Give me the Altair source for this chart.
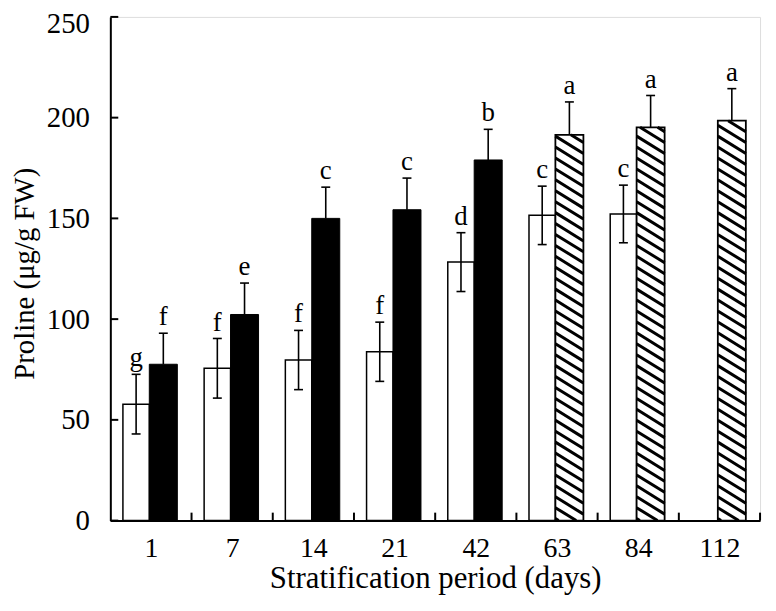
import altair as alt
import pandas as pd
import numpy as np

# ---- data ----
categories = ["1", "7", "14", "21", "42", "63", "84", "112"]
white_means = [57.8, 75.6, 79.7, 83.8, 128.3, 151.5, 152.2, None]
white_errs = [14.8, 14.8, 14.7, 14.7, 14.6, 14.5, 14.3, None]
white_letters = ["g", "f", "f", "f", "d", "c", "c", None]
dark_means = [77.6, 102.3, 150.0, 154.3, 179.0, 191.5, 195.2, 198.5]
dark_errs = [15.4, 15.6, 15.5, 15.7, 15.2, 16.3, 15.8, 15.9]
dark_letters = ["f", "e", "c", "c", "b", "a", "a", "a"]
dark_hatched = [False, False, False, False, False, True, True, True]
y_ticks = [0, 50, 100, 150, 200, 250]

# ---- layout constants ----
W, H = 654, 507
YMAX = 250
NG = len(categories)
PX_X = W / NG
PX_Y = H / YMAX
W_L, W_R = 0.155, 0.48
D_L, D_R = 0.48, 0.825
CAP = 0.055

rows_w, rows_d = [], []
for i, c in enumerate(categories):
    if white_means[i] is not None:
        rows_w.append(dict(cat=c, x=i + W_L, x2=i + W_R, xc=i + (W_L + W_R) / 2,
                           v=white_means[i], lo=white_means[i] - white_errs[i],
                           hi=white_means[i] + white_errs[i], letter=white_letters[i]))
    rows_d.append(dict(cat=c, x=i + D_L, x2=i + D_R, xc=i + (D_L + D_R) / 2,
                       v=dark_means[i], lo=dark_means[i], hi=dark_means[i] + dark_errs[i],
                       letter=dark_letters[i], hatched=dark_hatched[i]))
dw = pd.DataFrame(rows_w)
dd = pd.DataFrame(rows_d)
solid = dd[~dd.hatched]
hatch = dd[dd.hatched]

# hatch line segments (computed in pixel space, converted back to data units)
seg = []
slope, period = 0.62, 11.0
for _, r in hatch.iterrows():
    xl, xr = r.x * PX_X, r.x2 * PX_X
    top = r.v * PX_Y
    c = 2.0
    while c < top + slope * (xr - xl):
        xa = max(xl, xl + (c - top) / slope)
        xb = min(xr, xl + c / slope)
        if xa < xb:
            ya = c - slope * (xa - xl)
            yb = c - slope * (xb - xl)
            seg.append(dict(x=xa / PX_X, x2=xb / PX_X, y=ya / PX_Y, y2=yb / PX_Y))
        c += period
dseg = pd.DataFrame(seg)

err_all = pd.concat([dw[["xc", "lo", "hi"]], dd[["xc", "lo", "hi"]]], ignore_index=True)
err_all["cl"] = err_all.xc - CAP
err_all["cr"] = err_all.xc + CAP
caps = pd.concat([
    pd.DataFrame(dict(cl=dw.xc - CAP, cr=dw.xc + CAP, y=dw.lo)),
    pd.DataFrame(dict(cl=err_all.cl, cr=err_all.cr, y=err_all.hi)),
], ignore_index=True)
labels = pd.concat([dw[["xc", "hi", "letter"]], dd[["xc", "hi", "letter"]]], ignore_index=True)

label_expr = "[" + ",".join(f"'{c}'" for c in categories) + "][floor(datum.value)]"

xscale = alt.Scale(domain=[0, NG], nice=False, zero=False)
yscale = alt.Scale(domain=[0, YMAX], nice=False)

x_axis = alt.Axis(values=[i + 0.5 for i in range(NG)], labelExpr=label_expr,
                  title="Stratification period (days)", ticks=False, tickSize=0,
                  grid=False, labelPadding=14, labelFontSize=28, labelFont="Liberation Serif",
                  titleFontSize=31, titleFont="Liberation Serif", titleFontWeight="normal",
                  titleBaseline="alphabetic", titleY=67, titleX=W / 2,
                  domainColor="black", domainWidth=2, labelColor="black", titleColor="black")
y_axis = alt.Axis(values=y_ticks, title="Proline (\u03bcg/g FW)", ticks=False, tickSize=0,
                  grid=False, labelPadding=21, labelFontSize=29, labelFont="Liberation Serif",
                  labelOffset={"condition": {"test": f"datum.value == {YMAX}", "value": 7},
                               "value": 0},
                  titleFontSize=29, titleFont="Liberation Serif", titleFontWeight="normal",
                  titleAngle=270, titleAlign="center", titleBaseline="middle",
                  titleX=-86, titleY=258,
                  domainColor="black", domainWidth=2, labelColor="black", titleColor="black")

white_bars = alt.Chart(dw).mark_rect(fill="white", stroke="black", strokeWidth=1.5).encode(
    x=alt.X("x:Q", scale=xscale, axis=x_axis), x2="x2:Q",
    y=alt.Y("v:Q", scale=yscale, axis=y_axis), y2=alt.datum(0))

solid_bars = alt.Chart(solid).mark_rect(fill="black", stroke="black", strokeWidth=1).encode(
    x=alt.X("x:Q", scale=xscale), x2="x2:Q", y=alt.Y("v:Q", scale=yscale), y2=alt.datum(0))

hatch_bg = alt.Chart(hatch).mark_rect(fill="white").encode(
    x=alt.X("x:Q", scale=xscale), x2="x2:Q", y=alt.Y("v:Q", scale=yscale), y2=alt.datum(0))

hatch_lines = alt.Chart(dseg).mark_rule(color="black", strokeWidth=3).encode(
    x=alt.X("x:Q", scale=xscale), x2="x2:Q", y=alt.Y("y:Q", scale=yscale), y2="y2:Q")

hatch_outline = alt.Chart(hatch).mark_rect(fill="white", fillOpacity=0, stroke="black",
                                           strokeWidth=1.8).encode(
    x=alt.X("x:Q", scale=xscale), x2="x2:Q", y=alt.Y("v:Q", scale=yscale), y2=alt.datum(0))

err_lines = alt.Chart(err_all).mark_rule(color="black", strokeWidth=1.6).encode(
    x=alt.X("xc:Q", scale=xscale), y=alt.Y("lo:Q", scale=yscale), y2="hi:Q")

err_caps = alt.Chart(caps).mark_rule(color="black", strokeWidth=1.6).encode(
    x=alt.X("cl:Q", scale=xscale), x2="cr:Q", y=alt.Y("y:Q", scale=yscale))

letters = alt.Chart(labels).mark_text(font="Liberation Serif", fontSize=27, color="black",
                                      baseline="alphabetic", dy=-8).encode(
    x=alt.X("xc:Q", scale=xscale), y=alt.Y("hi:Q", scale=yscale), text="letter:N")

ytick_df = pd.DataFrame(dict(y=y_ticks))
ytick = alt.Chart(ytick_df).mark_rule(color="black", strokeWidth=2).encode(
    y=alt.Y("y:Q", scale=yscale), x=alt.value(0), x2=alt.value(8))

xtick_df = pd.DataFrame(dict(b=list(range(1, NG + 1))))
xtick = alt.Chart(xtick_df).mark_rule(color="black", strokeWidth=2).encode(
    x=alt.X("b:Q", scale=xscale), y=alt.value(H), y2=alt.value(H - 8))

chart = alt.layer(
    white_bars, solid_bars, hatch_bg, hatch_lines, hatch_outline,
    err_lines, err_caps, letters, ytick, xtick
).properties(
    width=W, height=H,
    autosize=alt.AutoSizeParams(type="none"),
    padding={"left": 103, "top": 7, "right": 8, "bottom": 85},
    background="white",
).configure_view(stroke=None).configure(font="Liberation Serif")

chart.save("out.html", embed_options={"renderer": "svg", "actions": False})
